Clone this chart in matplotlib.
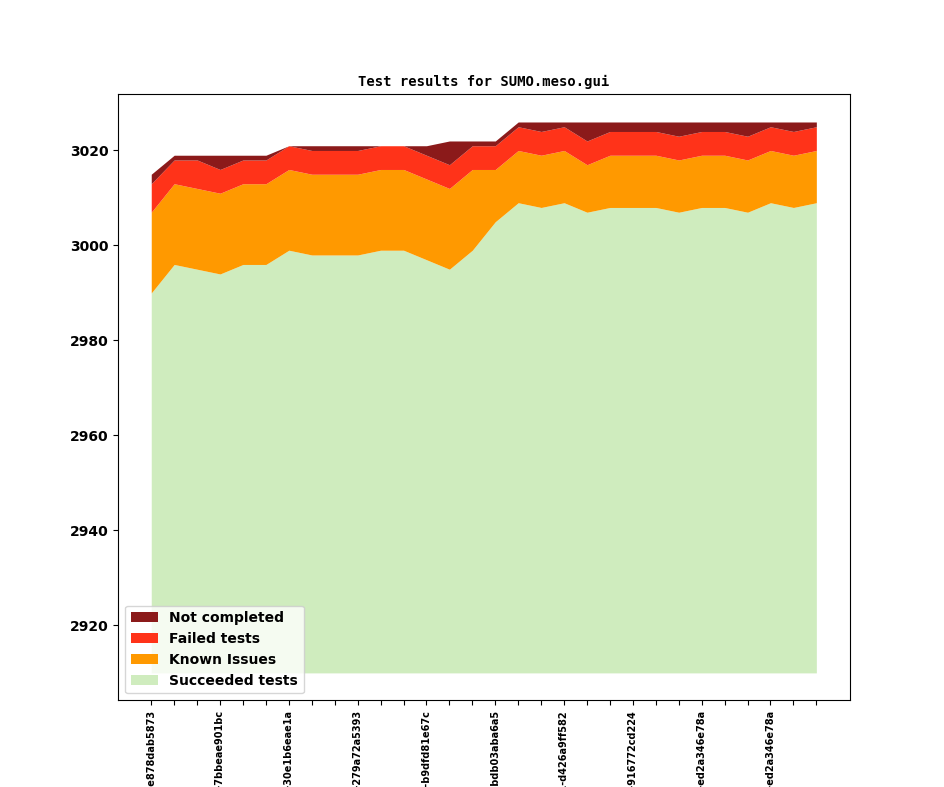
import numpy as np
from matplotlib import pyplot as plt

# test counts per revision
succeeded = [2990, 2996, 2995, 2994, 2996, 2996, 2999, 2998, 2998, 2998,
             2999, 2999, 2997, 2995, 2999, 3005, 3009, 3008, 3009, 3007,
             3008, 3008, 3008, 3007, 3008, 3008, 3007, 3009, 3008, 3009]
known = [17, 17, 17, 17, 17, 17, 17, 17, 17, 17,
         17, 17, 17, 17, 17, 11, 11, 11, 11, 10,
         11, 11, 11, 11, 11, 11, 11, 11, 11, 11]
failed = [6, 5, 6, 5, 5, 5, 5, 5, 5, 5,
          5, 5, 5, 5, 5, 5, 5, 5, 5, 5,
          5, 5, 5, 5, 5, 5, 5, 5, 5, 5]
notcompleted = [2, 1, 1, 3, 1, 1, 0, 1, 1, 1,
                0, 0, 2, 5, 1, 1, 1, 2, 1, 4,
                2, 2, 2, 3, 2, 2, 3, 1, 2, 1]
baseline = 2910

# only every third revision gets a label
revisions = ["v1_19_0+0421-e878dab5873", "v1_19_0+0447-7bbeae901bc",
             "v1_19_0+0470-30e1b6eae1a", "v1_19_0+0498-279a72a5393",
             "v1_19_0+0519-b9dfd81e67c", "v1_19_0+0544-bdb03aba6a5",
             "v1_19_0+0571-d426a9ff582", "v1_19_0+0590-916772cd224",
             "v1_19_0+0612-ed2a346e78a", "v1_19_0+0612-ed2a346e78a"]

colors = {"succ": "#cfecbe", "known": "#ff9900", "fail": "#ff3319", "nc": "#8b1a1a"}

x = np.arange(len(succeeded))
s = np.array(succeeded)
k = s + np.array(known)
f = k + np.array(failed)
n = f + np.array(notcompleted)

fig, ax = plt.subplots(figsize=(9.44, 7.87), dpi=100)
ax.fill_between(x, baseline, s, color=colors["succ"], lw=0, label="Succeeded tests")
ax.fill_between(x, s, k, color=colors["known"], lw=0, label="Known Issues")
ax.fill_between(x, k, f, color=colors["fail"], lw=0, label="Failed tests")
ax.fill_between(x, f, n, color=colors["nc"], lw=0, label="Not completed")

ax.set_xticks(x)
labels = ["" for _ in x]
for i, r in enumerate(revisions):
    labels[i * 3] = r
ax.set_xticklabels(labels, rotation=90, fontsize=7, fontweight="bold")
for t in ax.get_yticklabels():
    t.set_fontweight("bold")
ax.set_yticks([2920, 2940, 2960, 2980, 3000, 3020])
ax.set_yticklabels(["2920", "2940", "2960", "2980", "3000", "3020"], fontweight="bold")

handles, labs = ax.get_legend_handles_labels()
ax.legend(handles[::-1], labs[::-1], loc="lower left", prop={"weight": "bold", "size": 10})
plt.title("Test results for SUMO.meso.gui", fontsize=10, fontweight="bold", family="DejaVu Sans Mono")

plt.savefig("out.png")
